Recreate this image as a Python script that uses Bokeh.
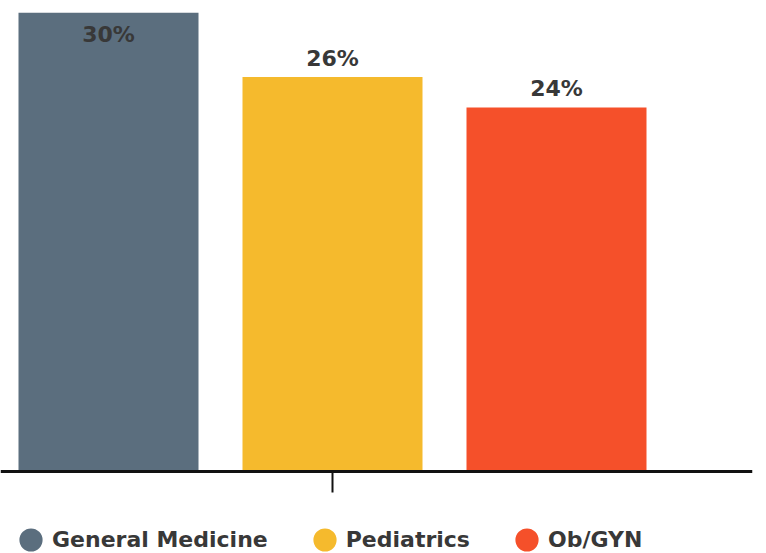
from bokeh.plotting import figure
from bokeh.models import ColumnDataSource, Range1d, FixedTicker, Legend, LegendItem
from bokeh.core.properties import value
from bokeh.embed import file_html
from bokeh.resources import INLINE

# ---- data ----
categories = ["General Medicine", "Pediatrics", "Ob/GYN"]
shares = [30.3, 26.0, 24.0]
colors = ["#5B6E7E", "#F5BA2D", "#F5502A"]
tick_labels = {0: ""}

FONT = "DejaVu Sans"
TEXT_COLOR = "#383838"
FSIZE = "22px"

n = len(categories)
xs = [i - (n - 1) / 2 for i in range(n)]
PX_PER_UNIT = 15.17          # vertical pixels per percentage point
Y_TOP = 30.26
Y_BOTTOM = Y_TOP - 541 / PX_PER_UNIT

labels = [f"{round(v)}%" for v in shares]
inside = [v >= Y_TOP - 2 for v in shares]
label_y = [min(v, Y_TOP) for v in shares]
label_off = [22 if f else -19 for f in inside]

src = ColumnDataSource(dict(
    x=xs, top=shares, color=colors, cat=categories,
    label=labels, ly=label_y, loff=label_off, ny=[float("nan")] * n,
))

p = figure(
    width=766, height=553, output_backend="svg", toolbar_location=None,
    x_range=Range1d(-332 / 224, (752 - 332) / 224),
    y_range=Range1d(Y_BOTTOM, Y_TOP),
    y_axis_location=None,
    min_border_left=0, min_border_right=14, min_border_top=12, min_border_bottom=0,
)
p.outline_line_color = None
p.xgrid.visible = False
p.ygrid.visible = False
p.background_fill_color = "white"
p.border_fill_color = "white"

ax = p.xaxis[0]
ax.fixed_location = 0
ax.ticker = FixedTicker(ticks=[0])
ax.major_label_overrides = tick_labels
ax.major_label_text_font_size = "1px"
ax.minor_tick_line_color = None
ax.axis_line_width = 3
ax.axis_line_color = "#111111"
ax.major_tick_line_color = "#111111"
ax.major_tick_line_width = 2
ax.major_tick_in = 0
ax.major_tick_out = 21

p.vbar(x="x", top="top", bottom=0, width=180 / 224, fill_color="color",
       line_color=None, source=src)

p.text(x="x", y="ly", text="label", y_offset="loff", text_align="center",
       text_baseline="middle", text_font=value(FONT), text_font_style="bold",
       text_font_size=FSIZE, text_color=TEXT_COLOR, source=src)

proxy = p.ellipse(x="x", y="ny", width=23, height=23, width_units="screen",
                  height_units="screen", fill_color="color", line_color=None, source=src)

items = [LegendItem(label=c, renderers=[proxy], index=i) for i, c in enumerate(categories)]
legend = Legend(
    items=items, orientation="horizontal", location=(16, -1),
    padding=0, margin=0, glyph_width=29, glyph_height=29, label_height=29,
    label_standoff=7, spacing=42,
    label_text_font=FONT, label_text_font_style="bold", label_text_font_size=FSIZE,
    label_text_color=TEXT_COLOR, border_line_color=None, background_fill_alpha=0,
)
p.add_layout(legend, "center")

open("out.html", "w").write(file_html(p, INLINE))
